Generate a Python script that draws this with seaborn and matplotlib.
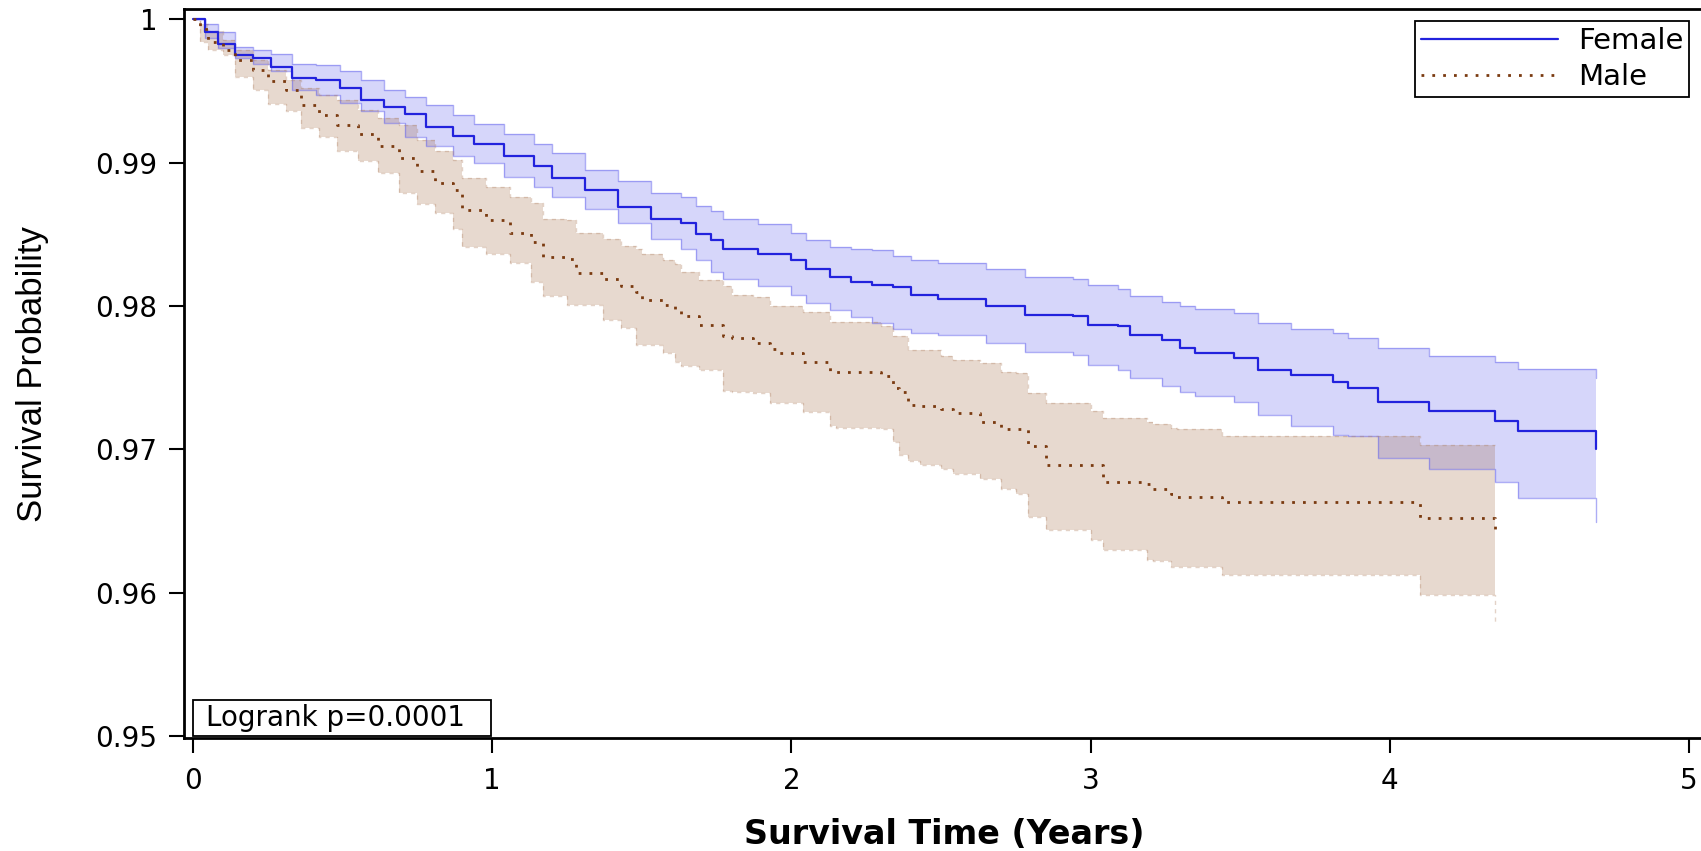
import matplotlib
matplotlib.use("Agg")
import matplotlib.pyplot as plt
from matplotlib.patches import Rectangle
import seaborn as sns
import pandas as pd

# Kaplan-Meier estimates (step values)
female_time = [0, .04, .085, .14, .2, .26, .33, .41, .49, .56, .64, .71, .78, .87, .94,
               1.04, 1.14, 1.2, 1.31, 1.42, 1.53, 1.63, 1.68, 1.73, 1.77, 1.89, 2.0, 2.05,
               2.13, 2.2, 2.27, 2.34, 2.4, 2.49, 2.65, 2.78, 2.94, 2.99, 3.09, 3.13, 3.24,
               3.3, 3.35, 3.48, 3.56, 3.67, 3.81, 3.86, 3.96, 4.13, 4.35, 4.43, 4.69]
female_surv = [1.0, .9991, .9983, .9975, .9973, .9967, .9959, .9958, .9952, .9944, .9939,
               .9934, .9925, .9919, .9913, .9905, .9898, .9889, .9881, .9869, .9861, .9858,
               .9850, .9846, .9840, .9836, .9832, .9826, .9820, .9817, .9815, .9813, .9808,
               .9805, .9800, .9794, .9793, .9787, .9786, .9780, .9776, .9771, .9767, .9764,
               .9755, .9752, .9747, .9743, .9733, .9727, .9720, .9713, .9700]
female_upper = [1.0, .9997, .9991, .9981, .9979, .9976, .9969, .9968, .9964, .9958, .9951,
                .9946, .9940, .9933, .9927, .9920, .9913, .9907, .9895, .9887, .9879, .9876,
                .9870, .9866, .9861, .9857, .9851, .9846, .9841, .9840, .9839, .9835, .9832,
                .9830, .9826, .9820, .9819, .9815, .9812, .9807, .9803, .9800, .9798, .9795,
                .9788, .9784, .9781, .9778, .9771, .9765, .9761, .9756, .9750]
female_lower = [1.0, .9987, .9980, .9973, .9969, .9964, .9951, .9947, .9942, .9936, .9928,
                .9918, .9912, .9905, .9900, .9890, .9883, .9876, .9868, .9858, .9847, .9840,
                .9832, .9824, .9819, .9814, .9808, .9802, .9797, .9792, .9788, .9784, .9781,
                .9780, .9774, .9768, .9766, .9759, .9755, .9750, .9744, .9740, .9737, .9733,
                .9724, .9716, .9710, .9709, .9694, .9686, .9677, .9666, .9649]

male_time = [0, .023, .05, .1, .14, .2, .25, .31, .36, .42, .48, .55, .62, .69, .75, .81,
             .87, .9, .98, 1.06, 1.13, 1.17, 1.25, 1.28, 1.37, 1.43, 1.48, 1.5, 1.57, 1.61,
             1.63, 1.69, 1.77, 1.8, 1.87, 1.93, 1.95, 2.04, 2.13, 2.15, 2.3, 2.34, 2.36, 2.39,
             2.43, 2.5, 2.54, 2.63, 2.7, 2.75, 2.79, 2.85, 3.0, 3.04, 3.19, 3.21, 3.27, 3.29,
             3.44, 4.1, 4.35]
male_surv = [1.0, .9993, .9984, .9979, .9972, .9965, .9957, .9951, .9940, .9933, .9926,
             .9920, .9912, .9903, .9894, .9886, .9881, .9867, .9860, .9851, .9845, .9834,
             .9833, .9823, .9819, .9814, .9810, .9804, .9801, .9797, .9793, .9787, .9779,
             .9778, .9774, .9770, .9767, .9761, .9754, .9754, .9751, .9743, .9740, .9731,
             .9730, .9728, .9725, .9719, .9714, .9714, .9702, .9689, .9689, .9677, .9676,
             .9672, .9669, .9667, .9663, .9652, .9640]
male_upper = [1.0, .9997, .9992, .9986, .9979, .9972, .9965, .9958, .9952, .9947, .9944,
              .9937, .9931, .9926, .9916, .9908, .9902, .9889, .9883, .9876, .9872, .9861,
              .9860, .9851, .9847, .9842, .9840, .9836, .9832, .9829, .9824, .9818, .9814,
              .9808, .9806, .9800, .9800, .9796, .9789, .9789, .9786, .9779, .9779, .9769,
              .9769, .9765, .9762, .9760, .9754, .9753, .9739, .9732, .9727, .9722, .9719,
              .9718, .9715, .9714, .9709, .9703, .9703]
male_lower = [1.0, .9984, .9979, .9975, .9960, .9951, .9941, .9936, .9924, .9918, .9908,
              .9901, .9893, .9879, .9871, .9865, .9854, .9841, .9836, .9830, .9817, .9807,
              .9801, .9801, .9790, .9785, .9773, .9773, .9767, .9761, .9758, .9755, .9741,
              .9740, .9739, .9732, .9732, .9726, .9716, .9715, .9714, .9705, .9696, .9692,
              .9689, .9686, .9683, .9679, .9672, .9669, .9653, .9644, .9637, .9630, .9623,
              .9622, .9618, .9618, .9612, .9598, .9579]

groups = ["Female", "Male"]
x_ticks = [0, 1, 2, 3, 4, 5]
y_ticks = [0.95, 0.96, 0.97, 0.98, 0.99, 1.0]
y_tick_labels = ["0.95", "0.96", "0.97", "0.98", "0.99", "1"]
logrank_text = "Logrank p=0.0001"

line_colors = {"Female": "#2222DD", "Male": "#7A3A10"}
line_widths = {"Female": 1.6, "Male": 2.0}
band_colors = {"Female": "#1010E6", "Male": "#8B4513"}

df = pd.concat([
    pd.DataFrame({"time": female_time, "surv": female_surv, "sex": "Female"}),
    pd.DataFrame({"time": male_time, "surv": male_surv, "sex": "Male"}),
], ignore_index=True)

sns.set_style("white")
plt.rcParams["font.family"] = ["DejaVu Sans"]
plt.rcParams["text.color"] = "black"

fig = plt.figure(figsize=(17.01, 8.51), dpi=100)
W, H = 1701, 851
ax = fig.add_axes([184 / W, 1 - 738 / H, 1 - 184 / W, (738 - 9) / H])

# confidence bands
bands = {
    "Female": (female_time, female_lower, female_upper, 0.17),
    "Male": (male_time, male_lower, male_upper, 0.20),
}
for g in groups:
    t, lo, hi, a = bands[g]
    ax.fill_between(t, lo, hi, step="post", color=band_colors[g], alpha=a, lw=0, zorder=1)
    if g == "Female":
        edge = dict(color="#6B6BEE", alpha=0.55, lw=1.0)
    else:
        edge = dict(color="#B08060", alpha=0.35, lw=1.0, ls=(0, (3, 3)))
    ax.step(t, lo, where="post", zorder=2, **edge)
    ax.step(t, hi, where="post", zorder=2, **edge)

# survival curves
n_before = len(ax.get_lines())
sns.lineplot(data=df, x="time", y="surv", hue="sex", style="sex",
             hue_order=groups, style_order=groups, palette=line_colors,
             dashes={"Female": "", "Male": (1, 2.9)}, estimator=None, errorbar=None,
             drawstyle="steps-post", lw=2.0, ax=ax, zorder=3)
for g, ln in zip(groups, ax.get_lines()[n_before:]):
    ln.set_linewidth(line_widths[g])

ax.set_xlim(-0.03, 5.04)
ax.set_ylim(0.94985, 1.00073)
ax.set_xticks(x_ticks)
ax.set_xticklabels([str(v) for v in x_ticks])
ax.set_yticks(y_ticks)
ax.set_yticklabels(y_tick_labels)
ax.tick_params(axis="both", direction="out", length=11, width=1.5, colors="black",
               labelcolor="black", labelsize=20, left=True, bottom=True)
ax.tick_params(axis="y", pad=8)
ax.tick_params(axis="x", pad=10)

for side in ["left", "bottom", "top"]:
    ax.spines[side].set_visible(True)
    ax.spines[side].set_color("black")
    ax.spines[side].set_linewidth(2)
ax.spines["right"].set_visible(False)

ax.set_xlabel("")
ax.set_ylabel("")
fig.text(944 / W, 1 - 835 / H, "Survival Time (Years)", ha="center", va="center",
         fontsize=24, fontweight="bold", color="black")
fig.text(33 / W, 1 - 374 / H, "Survival Probability", ha="center", va="center",
         rotation=90, fontsize=25, color="black", family=["Liberation Sans", "DejaVu Sans"])

# legend
handles, labels = ax.get_legend_handles_labels()
leg = ax.legend(handles, labels, loc="upper right", bbox_to_anchor=(0.992, 0.9835),
                fontsize=21, frameon=True, fancybox=False, framealpha=1,
                edgecolor="black", handlelength=4.7, handletextpad=0.68,
                labelspacing=0.28, borderpad=0.2, borderaxespad=0)
leg.get_frame().set_linewidth(1.3)
for txt in leg.get_texts():
    txt.set_color("black")
for g, ln in zip(groups, leg.get_lines()):
    ln.set_linewidth(line_widths[g])

# logrank box
ax.add_patch(Rectangle((0, 0.95), 0.996, 0.00251, fill=True, facecolor="white",
                       edgecolor="black", lw=1.3, zorder=4))
ax.text(0.042, 0.95069, logrank_text, ha="left", va="baseline", fontsize=20,
        color="black", zorder=5)

fig.savefig("out.png", dpi=100)
